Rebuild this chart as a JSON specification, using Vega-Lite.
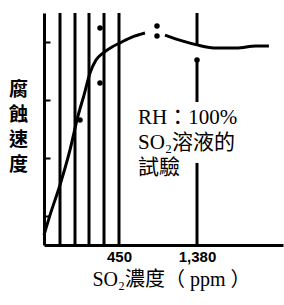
{
  "$schema": "https://vega.github.io/schema/vega-lite/v6.json",
  "width": 239,
  "height": 232,
  "autosize": {"type": "none"},
  "padding": {"left": 44, "top": 13, "right": 1, "bottom": 60},
  "background": "white",
  "view": {"stroke": null},
  "config": {"font": "Liberation Serif"},
  "datasets": {
    "curve": [
      {"seg": "a", "ppm": 0, "rate": 0.34},
      {"seg": "a", "ppm": 36, "rate": 1.03},
      {"seg": "a", "ppm": 96, "rate": 2.07},
      {"seg": "a", "ppm": 156, "rate": 3.28},
      {"seg": "a", "ppm": 204, "rate": 4.45},
      {"seg": "a", "ppm": 240, "rate": 5.17},
      {"seg": "a", "ppm": 276, "rate": 5.93},
      {"seg": "a", "ppm": 312, "rate": 6.38},
      {"seg": "a", "ppm": 354, "rate": 6.62},
      {"seg": "a", "ppm": 408, "rate": 6.83},
      {"seg": "a", "ppm": 462, "rate": 6.97},
      {"seg": "a", "ppm": 605, "rate": 7.17},
      {"seg": "a", "ppm": 760, "rate": 7.31},
      {"seg": "b", "ppm": 998, "rate": 7.24},
      {"seg": "b", "ppm": 1213, "rate": 7.03},
      {"seg": "b", "ppm": 1380, "rate": 6.9},
      {"seg": "b", "ppm": 1618, "rate": 6.79},
      {"seg": "b", "ppm": 1857, "rate": 6.79},
      {"seg": "b", "ppm": 2095, "rate": 6.86},
      {"seg": "b", "ppm": 2250, "rate": 6.86}
    ],
    "dots": [
      {"ppm": 216, "rate": 4.31},
      {"ppm": 336, "rate": 5.59},
      {"ppm": 336, "rate": 7.48},
      {"ppm": 903, "rate": 7.55},
      {"ppm": 903, "rate": 7.21},
      {"ppm": 1380, "rate": 6.38}
    ],
    "vlines": [
      {"ppm": 96, "lo": 0, "hi": 8},
      {"ppm": 186, "lo": 0, "hi": 8},
      {"ppm": 270, "lo": 0, "hi": 8},
      {"ppm": 360, "lo": 0, "hi": 8},
      {"ppm": 450, "lo": 0, "hi": 8},
      {"ppm": 1380, "lo": 6.9, "hi": 8},
      {"ppm": 1380, "lo": 4.93, "hi": 6.38},
      {"ppm": 1380, "lo": 0, "hi": 2.83}
    ],
    "notes": [
      {"ppm": 676, "rate": 4.38, "text": "RH：100%"},
      {"ppm": 676, "rate": 3.52, "text": "SO₂溶液的"},
      {"ppm": 676, "rate": 2.66, "text": "試驗"}
    ]
  },
  "layer": [
    {
      "data": {"name": "vlines"},
      "mark": {"type": "rule", "strokeWidth": 3, "color": "black"},
      "encoding": {
        "x": {
          "field": "ppm", "type": "quantitative",
          "scale": {"domain": [0, 450, 1380, 2420], "range": [0, 75, 153, 239], "nice": false, "zero": false},
          "axis": {
            "values": [450, 1380], "labelExpr": "format(datum.value, ',')", "grid": false, "ticks": false, "tickSize": 0,
            "labelFont": "Liberation Sans", "labelFontWeight": "bold", "labelFontSize": 15, "labelColor": "black",
            "labelPadding": 4, "domainColor": "black", "domainWidth": 3,
            "title": "SO₂濃度（ ppm ）", "titleFont": "Liberation Serif, Noto Sans CJK TC", "titleFontSize": 20,
            "titleFontWeight": "normal", "titleColor": "black", "titleX": 127, "titleY": 34,
            "titleBaseline": "middle", "titleAlign": "center"
          }
        },
        "y": {
          "field": "lo", "type": "quantitative",
          "scale": {"domain": [0, 8], "nice": false, "zero": false},
          "axis": {
            "values": [1, 2, 3, 4, 5, 6, 7], "labels": false, "grid": false, "tickSize": -6, "tickWidth": 2,
            "tickColor": "black", "domainColor": "black", "domainWidth": 3,
            "title": ["腐", "蝕", "速", "度"], "titleFont": "Noto Sans CJK TC", "titleFontSize": 19,
            "titleFontWeight": "bold", "titleColor": "black", "titleAngle": 0, "titleLineHeight": 25,
            "titleX": -26, "titleY": 67, "titleAlign": "center", "titleBaseline": "top"
          }
        },
        "y2": {"field": "hi"}
      }
    },
    {
      "mark": {"type": "rule", "strokeWidth": 3, "color": "black"},
      "encoding": {"y": {"datum": 8}}
    },
    {
      "mark": {"type": "rule", "strokeWidth": 1, "color": "black"},
      "encoding": {"x": {"datum": 2420}}
    },
    {
      "data": {"name": "curve"},
      "mark": {"type": "line", "strokeWidth": 3, "color": "black", "interpolate": "monotone"},
      "encoding": {
        "x": {"field": "ppm", "type": "quantitative"},
        "y": {"field": "rate", "type": "quantitative"},
        "detail": {"field": "seg"}
      }
    },
    {
      "data": {"name": "dots"},
      "mark": {"type": "point", "filled": true, "size": 30, "color": "black", "opacity": 1},
      "encoding": {
        "x": {"field": "ppm", "type": "quantitative"},
        "y": {"field": "rate", "type": "quantitative"}
      }
    },
    {
      "data": {"name": "notes"},
      "mark": {"type": "text", "align": "left", "baseline": "middle", "fontSize": 21, "font": "Liberation Serif, Noto Sans CJK TC", "color": "black"},
      "encoding": {
        "x": {"field": "ppm", "type": "quantitative"},
        "y": {"field": "rate", "type": "quantitative"},
        "text": {"field": "text"}
      }
    }
  ]
}
